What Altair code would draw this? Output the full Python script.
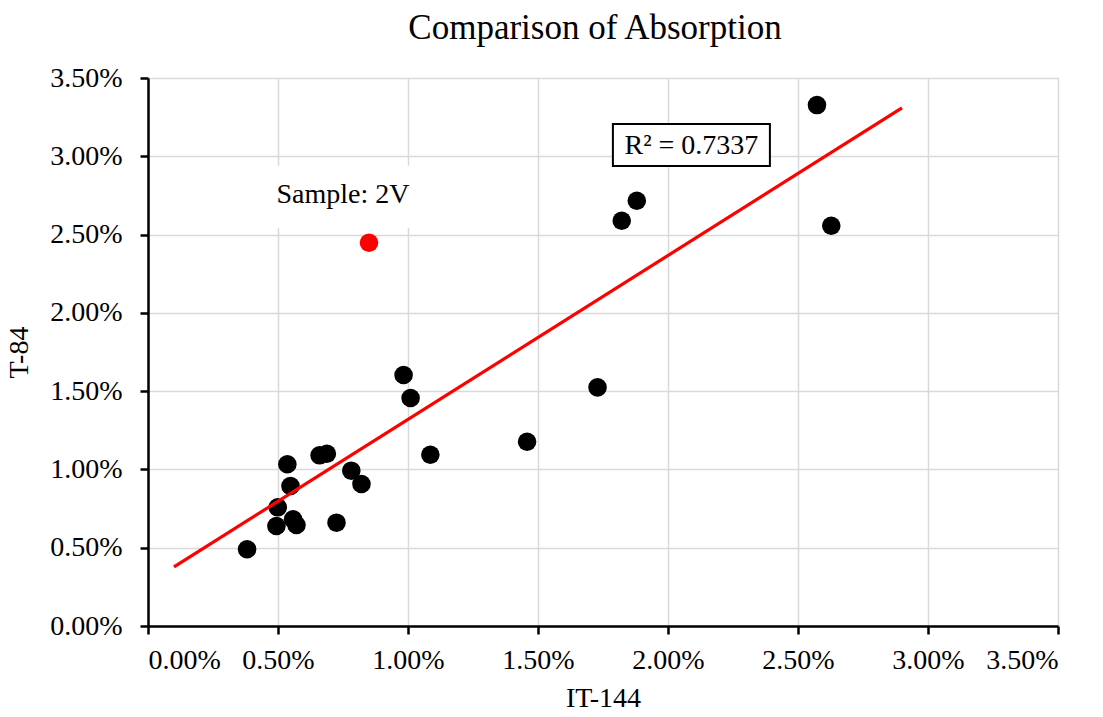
import altair as alt
import pandas as pd

# IT-144 vs T-84 absorption (fractions)
it144 = [0.00381, 0.00536, 0.00548, 0.00499, 0.00494, 0.00558, 0.00571,
         0.00660, 0.00688, 0.00782, 0.00821, 0.00725, 0.01086, 0.01458,
         0.00983, 0.01010, 0.01729, 0.01822, 0.01880, 0.02573, 0.02628]
t84 = [0.00490, 0.01033, 0.00894, 0.00758, 0.00639, 0.00681, 0.00645,
       0.01090, 0.01100, 0.00992, 0.00907, 0.00660, 0.01094, 0.01177,
       0.01603, 0.01456, 0.01524, 0.02588, 0.02716, 0.03327, 0.02556]

# highlighted sample
sample_name = "Sample: 2V"
sample_x = 0.00850
sample_y = 0.02448

r2_text = "R² = 0.7337"
r2_pos = (0.02090, 0.030715)

ticks = [0, 0.005, 0.01, 0.015, 0.02, 0.025, 0.03, 0.035]

FONT = "Liberation Serif"

df = pd.DataFrame({"x": it144 + [sample_x], "y": t84 + [sample_y],
                   "kind": ["base"] * len(it144) + ["sample"]})
df_sample = pd.DataFrame({"x": [sample_x], "y": [sample_y], "label": [sample_name]})
df_r2 = pd.DataFrame({"x": [r2_pos[0]], "y": [r2_pos[1]], "label": [r2_text]})

xscale = alt.Scale(domain=[0, 0.035], nice=False, zero=False)
yscale = alt.Scale(domain=[0, 0.035], nice=False, zero=False)

xaxis = alt.Axis(title="IT-144", format=".2%", values=ticks, labelPadding=12, titlePadding=10)
yaxis = alt.Axis(title="T-84", format=".2%", values=ticks, labelPadding=18, titlePadding=16)

X = alt.X("x:Q", scale=xscale, axis=xaxis)
Y = alt.Y("y:Q", scale=yscale, axis=yaxis)

base = alt.Chart(df)

points = base.mark_circle(size=345, opacity=1).encode(
    x=X, y=Y,
    color=alt.Color("kind:N", scale=alt.Scale(domain=["base", "sample"],
                                              range=["#000000", "#ff0000"]), legend=None),
)

# white backing behind the sample label
label_bg = alt.Chart(df_sample).mark_rect(
    color="white", width=164, height=62, xOffset=-26, yOffset=-46
).encode(x=X, y=Y)

label_text = alt.Chart(df_sample).mark_text(
    font=FONT, fontSize=28, color="black", dx=-26, dy=-48
).encode(x=X, y=Y, text="label:N")

trend = base.transform_regression("x", "y", extent=[0.001, 0.029]).mark_line(
    color="#ff0000", strokeWidth=3.2
).encode(x=X, y=Y)

r2_box = alt.Chart(df_r2).mark_rect(
    fill="white", stroke="black", strokeWidth=2, width=157, height=42
).encode(x=X, y=Y)

r2_label = alt.Chart(df_r2).mark_text(
    font=FONT, fontSize=28, color="black", baseline="middle", dy=1
).encode(x=X, y=Y, text="label:N")

chart = alt.layer(label_bg, points, trend, label_text, r2_box, r2_label).properties(
    width=910, height=548,
    padding={"left": 148, "top": 78, "right": 45, "bottom": 91},
    autosize=alt.AutoSizeParams(type="none"),
    title=alt.TitleParams("Comparison of Absorption", font=FONT, fontSize=35,
                          fontWeight="normal", color="black", anchor="middle",
                          dx=-8, offset=18),
).configure_view(stroke=None).configure(background="white").configure_axis(
    labelFont=FONT, labelFontSize=28, labelColor="black",
    titleFont=FONT, titleFontSize=28, titleFontWeight="normal", titleColor="black",
    domainColor="black", domainWidth=2.5, tickColor="black", tickWidth=2.5, tickSize=8,
    gridColor="#d9d9d9", gridWidth=1.5,
)

chart.save("out.html", embed_options={"renderer": "svg", "actions": False})
